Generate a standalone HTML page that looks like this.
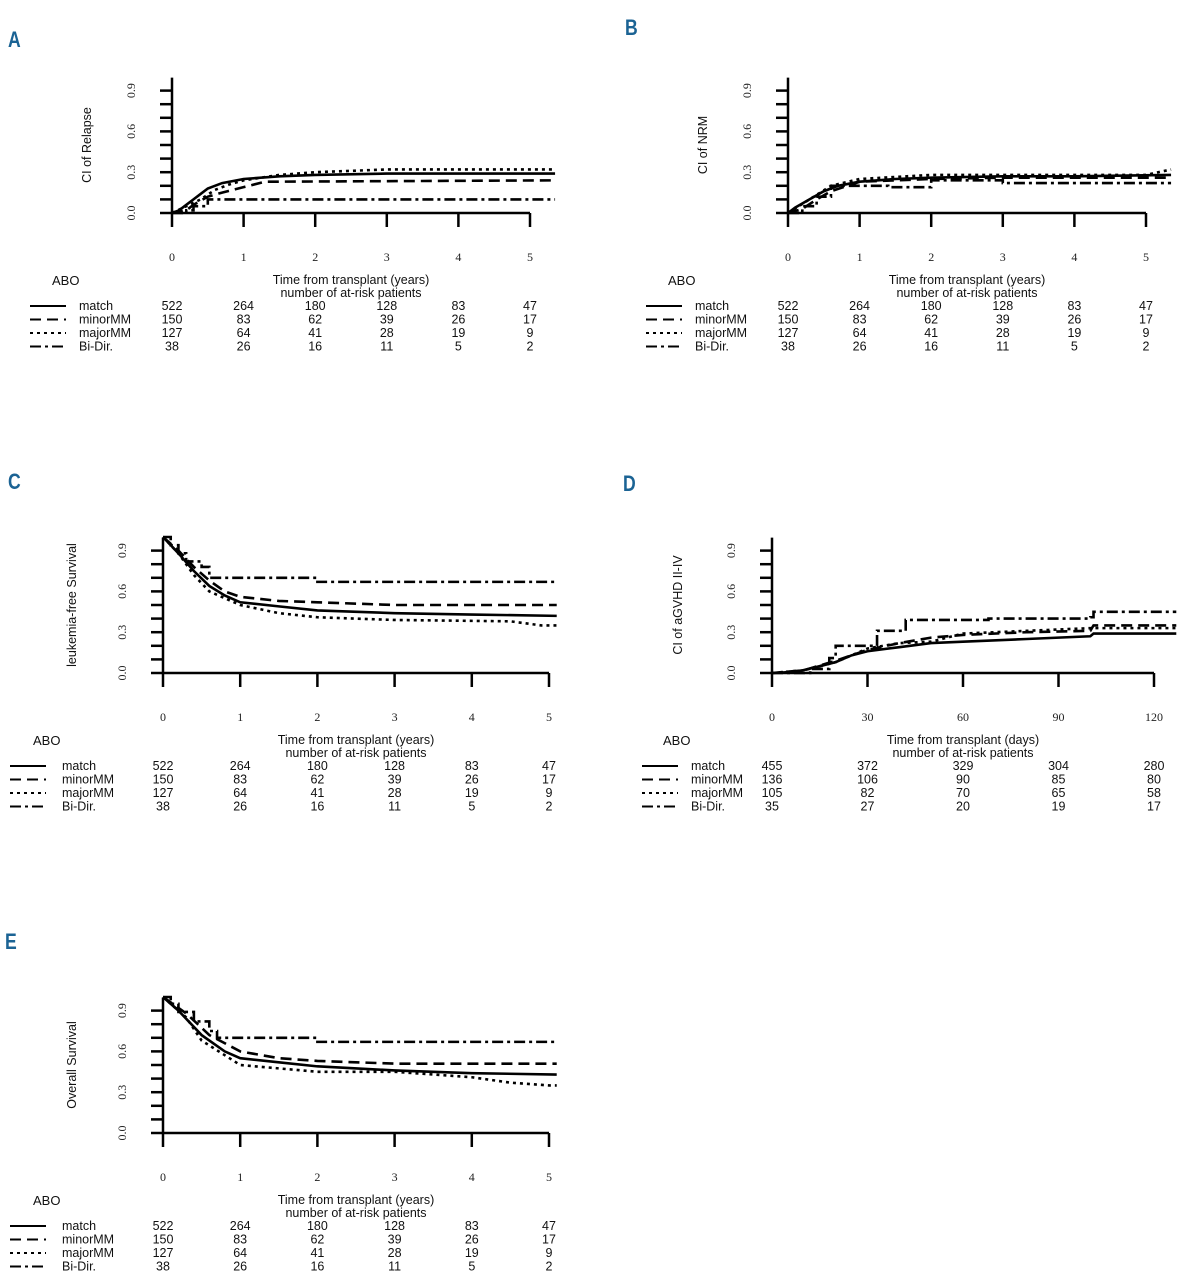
<!DOCTYPE html>
<html><head><meta charset="utf-8"><style>
html,body{margin:0;padding:0;background:#fff;}
body{width:1184px;height:1280px;overflow:hidden;position:relative;}
svg{position:absolute;left:0;top:0;}
</style></head>
<body>
<svg id="fig" width="1184" height="1280" viewBox="0 0 1184 1280"></svg>
<script>
const groupNames = ["match","minorMM","majorMM","Bi-Dir."];
const yTickLabels = ["0.0","0.3","0.6","0.9"];
// Panel A: CI of relapse (years)
const aMatchX=[0,0.1,0.2,0.3,0.4,0.5,0.7,1,1.5,2,3,5.35];
const aMatchY=[0,0.02,0.06,0.10,0.14,0.18,0.22,0.25,0.27,0.28,0.29,0.29];
const aMinorX=[0,0.2,0.3,0.5,0.7,1,1.3,5.35];
const aMinorY=[0,0.02,0.06,0.12,0.15,0.19,0.23,0.24];
const aMajorX=[0,0.2,0.4,0.6,0.8,1,1.5,2,3,5.35];
const aMajorY=[0,0.05,0.10,0.17,0.21,0.24,0.28,0.30,0.32,0.32];
const aBiX=[0,0.2,0.3,0.5,5.35];
const aBiY=[0,0.02,0.05,0.10,0.10];
// Panel B: CI of NRM
const bMatchX=[0,0.1,0.3,0.5,0.7,1,1.5,2,3,4,5.35];
const bMatchY=[0,0.04,0.10,0.16,0.20,0.23,0.25,0.26,0.27,0.27,0.28];
const bMinorX=[0,0.2,0.4,0.6,1,2,3,5.35];
const bMinorY=[0,0.03,0.10,0.16,0.23,0.25,0.26,0.26];
const bMajorX=[0,0.3,0.6,1,2,5,5.35];
const bMajorY=[0,0.10,0.20,0.25,0.28,0.28,0.32];
const bBiX=[0,0.2,0.4,0.6,1,1.4,2,3,5.35];
const bBiY=[0,0.05,0.12,0.20,0.20,0.19,0.24,0.22,0.22];
// Panel C: leukemia-free survival
const cMatchX=[0,0.2,0.4,0.6,0.8,1,1.5,2,3,4,5.1];
const cMatchY=[1,0.88,0.75,0.64,0.57,0.52,0.49,0.46,0.44,0.43,0.42];
const cMinorX=[0,0.2,0.4,0.6,0.8,1,1.5,2,3,5.1];
const cMinorY=[1,0.9,0.78,0.68,0.60,0.56,0.53,0.52,0.50,0.50];
const cMajorX=[0,0.2,0.4,0.6,1,1.5,2,3,4.5,4.9,5.1];
const cMajorY=[1,0.88,0.72,0.60,0.50,0.44,0.41,0.39,0.38,0.35,0.35];
const cBiX=[0,0.1,0.2,0.3,0.5,0.6,1.9,2,5.1];
const cBiY=[1,0.94,0.88,0.82,0.78,0.70,0.70,0.67,0.67];
// Panel D: CI of aGVHD II-IV (days)
const dMatchX=[0,8,15,20,25,30,40,50,60,80,100,101,127];
const dMatchY=[0,0.01,0.05,0.08,0.13,0.16,0.19,0.22,0.23,0.25,0.27,0.29,0.29];
const dMinorX=[0,10,20,30,40,50,60,80,100,101,127];
const dMinorY=[0,0.02,0.09,0.17,0.22,0.26,0.28,0.30,0.31,0.35,0.35];
const dMajorX=[0,10,20,30,40,50,60,80,100,127];
const dMajorY=[0,0.02,0.08,0.18,0.22,0.23,0.29,0.31,0.33,0.33];
const dBiX=[0,12,18,20,32,33,40,42,65,68,100,101,127];
const dBiY=[0,0.03,0.11,0.20,0.20,0.31,0.31,0.39,0.39,0.40,0.41,0.45,0.45];
// Panel E: overall survival
const eMatchX=[0,0.2,0.5,0.8,1,1.5,2,3,4,5.1];
const eMatchY=[1,0.9,0.72,0.60,0.55,0.52,0.49,0.46,0.44,0.43];
const eMinorX=[0,0.3,0.6,1,1.5,2,3,5.1];
const eMinorY=[1,0.88,0.72,0.60,0.55,0.53,0.51,0.51];
const eMajorX=[0,0.3,0.5,1,2,3,4,4.5,5,5.1];
const eMajorY=[1,0.85,0.68,0.50,0.45,0.45,0.41,0.37,0.35,0.35];
const eBiX=[0,0.1,0.2,0.4,0.6,0.7,1.9,2,5.1];
const eBiY=[1,0.95,0.89,0.82,0.75,0.70,0.70,0.67,0.67];
// at-risk tables
const riskYears=[[522,264,180,128,83,47],[150,83,62,39,26,17],[127,64,41,28,19,9],[38,26,16,11,5,2]];
const riskDays=[[455,372,329,304,280],[136,106,90,85,80],[105,82,70,65,58],[35,27,20,19,17]];
const yearTicks=[0,1,2,3,4,5];
const dayTicks=[0,30,60,90,120];

const NS="http://www.w3.org/2000/svg";
const svg=document.getElementById('fig');
function mk(tag,attrs,parent){const e=document.createElementNS(NS,tag);for(const k in attrs)e.setAttribute(k,attrs[k]);(parent||svg).appendChild(e);return e;}
const dashes=["none","11 6","3 4","11 4 3 4"];

function panel(cfg){
  const g=mk('g',{});
  
  
  const sx=v=>cfg.x0+(v-cfg.ticks[0])/(cfg.ticks[cfg.ticks.length-1]-cfg.ticks[0])*(cfg.x1-cfg.x0);
  const sy=v=>cfg.y0-v*cfg.h;
  const L=mk('text',{x:cfg.lx,y:cfg.ly,'font-family':'"Liberation Sans Narrow","Liberation Sans",sans-serif','font-weight':'bold','font-size':22,fill:'#1b6394',transform:`translate(${cfg.lx} 0) scale(0.8 1) translate(${-cfg.lx} 0)`},g);
  L.textContent=cfg.letter;
  
  const ya=mk('line',{x1:cfg.x0,y1:sy(0),x2:cfg.x0,y2:sy(0.995),stroke:'#000','stroke-width':2.5},g);
  
  for(let i=0;i<=9;i++){mk('line',{x1:cfg.x0-12,y1:sy(i/10),x2:cfg.x0,y2:sy(i/10),stroke:'#000','stroke-width':2.5},g);}
  yTickLabels.forEach(t=>{const y=sy(parseFloat(t));const tx=mk('text',{x:cfg.x0-37,y:y,transform:`rotate(-90 ${cfg.x0-37} ${y})`,'text-anchor':'middle','font-family':'"Liberation Serif",serif','font-size':12,fill:'#222'},g);tx.textContent=t;
    });
  const yl=mk('text',{x:cfg.ylx,y:sy(0.5),transform:`rotate(-90 ${cfg.ylx} ${sy(0.5)})`,'text-anchor':'middle','font-family':'"Liberation Sans",sans-serif','font-size':12.5,fill:'#111'},g);
  yl.textContent=cfg.ytitle;
  const xa=mk('line',{x1:cfg.x0,y1:sy(0),x2:cfg.x1,y2:sy(0),stroke:'#000','stroke-width':2.5},g);
  
  cfg.ticks.forEach(t=>{mk('line',{x1:sx(t),y1:sy(0),x2:sx(t),y2:sy(0)+14,stroke:'#000','stroke-width':2.5},g);
    const tx=mk('text',{x:sx(t),y:sy(0)+48,'text-anchor':'middle','font-family':'"Liberation Serif",serif','font-size':12,fill:'#222'},g);tx.textContent=t;
    });
  cfg.series.forEach((s,i)=>{
    let d='M'+sx(s[0][0])+','+sy(s[1][0]);
    for(let k=1;k<s[0].length;k++){
      if(i===3){d+=' H'+sx(s[0][k])+' V'+sy(s[1][k]);}
      else{d+=' L'+sx(s[0][k])+','+sy(s[1][k]);}
    }
    const p=mk('path',{d:d,fill:'none',stroke:'#000','stroke-width':2.6,'stroke-dasharray':dashes[i]},g);
    
    
  });
  const base=sy(0);
  const f='"Liberation Sans",sans-serif';
  const abo=mk('text',{x:cfg.abx,y:base+72,'font-family':f,'font-size':13,fill:'#111'},g);abo.textContent='ABO';
  
  const cx=(cfg.x0+cfg.x1)/2;
  const t1=mk('text',{x:cx,y:base+71,'text-anchor':'middle','font-family':f,'font-size':12.5,fill:'#111'},g);t1.textContent=cfg.xtitle;
  
  const t2=mk('text',{x:cx,y:base+84,'text-anchor':'middle','font-family':f,'font-size':12.5,fill:'#111'},g);t2.textContent='number of at-risk patients';
  
  groupNames.forEach((n,i)=>{
    const y=base+97+i*13.5;
    const ln=mk('line',{x1:cfg.legx,y1:y-4,x2:cfg.legx+36,y2:y-4,stroke:'#000','stroke-width':2,'stroke-dasharray':dashes[i]},g);
    
    const nt=mk('text',{x:cfg.legx+cfg.nameOff,y:y,'font-family':f,'font-size':12.5,fill:'#111'},g);nt.textContent=n;
    
    cfg.risk[i].forEach((v,j)=>{const rt=mk('text',{x:sx(cfg.ticks[j]),y:y,'text-anchor':'middle','font-family':f,'font-size':12.5,fill:'#111'},g);rt.textContent=v;
      });
  });
}
const yrT='Time from transplant (years)';
panel({id:'a',letter:'A',lx:8,ly:47,x0:172,x1:530,y0:213,h:136,ticks:yearTicks,ylx:91,ytitle:'CI of Relapse',xtitle:yrT,abx:52,legx:30,nameOff:49,risk:riskYears,
  series:[[aMatchX,aMatchY],[aMinorX,aMinorY],[aMajorX,aMajorY],[aBiX,aBiY]]});
panel({id:'b',letter:'B',lx:625,ly:35,x0:788,x1:1146,y0:213,h:136,ticks:yearTicks,ylx:707,ytitle:'CI of NRM',xtitle:yrT,abx:668,legx:646,nameOff:49,risk:riskYears,
  series:[[bMatchX,bMatchY],[bMinorX,bMinorY],[bMajorX,bMajorY],[bBiX,bBiY]]});
panel({id:'c',letter:'C',lx:8,ly:489,x0:163,x1:549,y0:673,h:136,ticks:yearTicks,ylx:76,ytitle:'leukemia-free Survival',xtitle:yrT,abx:33,legx:10,nameOff:52,risk:riskYears,
  series:[[cMatchX,cMatchY],[cMinorX,cMinorY],[cMajorX,cMajorY],[cBiX,cBiY]]});
panel({id:'d',letter:'D',lx:623,ly:491,x0:772,x1:1154,y0:673,h:136,ticks:dayTicks,ylx:682,ytitle:'CI of aGVHD II-IV',xtitle:'Time from transplant (days)',abx:663,legx:642,nameOff:49,risk:riskDays,
  series:[[dMatchX,dMatchY],[dMinorX,dMinorY],[dMajorX,dMajorY],[dBiX,dBiY]]});
panel({id:'e',letter:'E',lx:5,ly:949,x0:163,x1:549,y0:1133,h:136,ticks:yearTicks,ylx:76,ytitle:'Overall Survival',xtitle:yrT,abx:33,legx:10,nameOff:52,risk:riskYears,
  series:[[eMatchX,eMatchY],[eMinorX,eMinorY],[eMajorX,eMajorY],[eBiX,eBiY]]});
</script>
</body></html>
